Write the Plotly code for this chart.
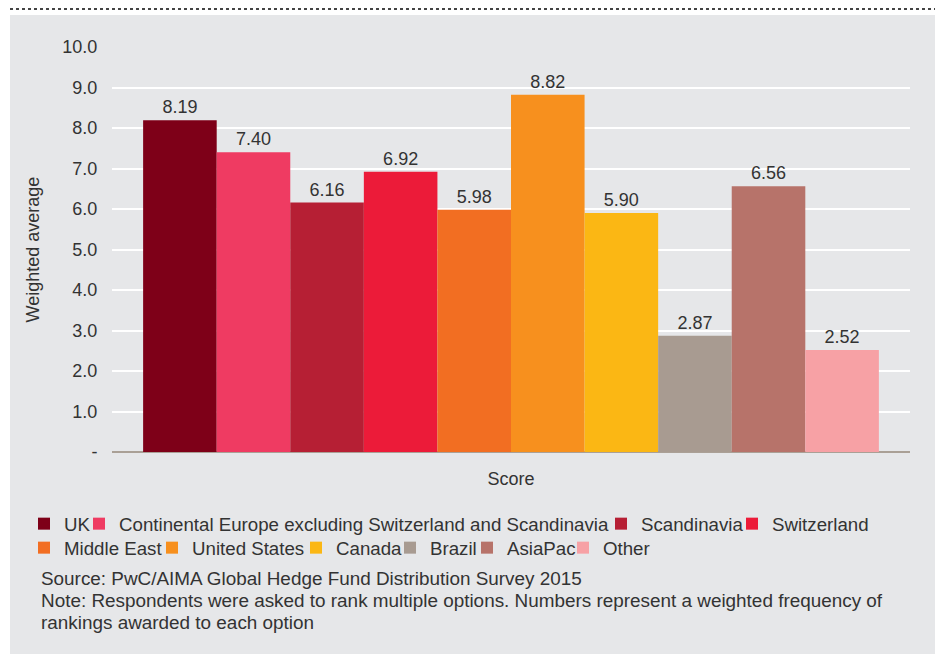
import plotly.graph_objects as go

regions = ["UK", "Continental Europe excluding Switzerland and Scandinavia", "Scandinavia",
           "Switzerland", "Middle East", "United States", "Canada", "Brazil", "AsiaPac", "Other"]
scores = [8.19, 7.40, 6.16, 6.92, 5.98, 8.82, 5.90, 2.87, 6.56, 2.52]
colors = ["#7e0018", "#ef3b62", "#b61f34", "#ec1b39", "#f26e22", "#f7901e",
          "#fbb714", "#a89b91", "#b7736a", "#f7a1a5"]
y_ticks = [0, 1, 2, 3, 4, 5, 6, 7, 8, 9, 10]
y_ticktext = ["-", "1.0", "2.0", "3.0", "4.0", "5.0", "6.0", "7.0", "8.0", "9.0", "10.0"]

# legend entry placement (page pixels: text start x, row top y)
legend_x = [60, 115, 637, 768, 60, 188, 332, 426, 503, 599]
legend_y = [505, 505, 505, 505, 529, 529, 529, 529, 529, 529]

FONT = "Liberation Sans, Arial, sans-serif"
TXT = "#333333"
BG = "#e6e7e9"
OFF = 8  # page body margin
W, H = 943 - OFF, 654 - OFF

fig = go.Figure()
legends = {}
for i, (name, val, col) in enumerate(zip(regions, scores, colors)):
    key = "legend" if i == 0 else f"legend{i + 1}"
    fig.add_trace(go.Bar(
        x=["Score"], y=[val], name=name, marker_color=col, marker_line_width=0,
        text=[f"{val:.2f}"], textposition="outside", cliponaxis=False,
        textfont=dict(size=18, color=TXT, family=FONT),
        legend=key,
    ))
    legends[key] = dict(orientation="h", xref="container", yref="container",
                        x=(legend_x[i] - 36 - OFF) / W, y=1 - (legend_y[i] - OFF) / H,
                        xanchor="left", yanchor="top",
                        font=dict(size=18.7, color=TXT, family=FONT),
                        bgcolor="rgba(0,0,0,0)", itemwidth=30)

# plot area in page pixels: x 112..910, y 47..452
def px(x):
    return (x - 112) / 798

def py(y):
    return (452 - y) / 405

fig.add_shape(type="rect", xref="paper", yref="paper", x0=px(10), x1=px(938),
              y0=py(670), y1=py(15), fillcolor=BG, line_width=0, layer="below")
fig.add_shape(type="line", xref="paper", yref="paper", x0=px(10), x1=px(950),
              y0=py(9), y1=py(9), line=dict(color="#444444", width=2, dash="dot"))

notes = ["Source: PwC/AIMA Global Hedge Fund Distribution Survey 2015",
         "Note: Respondents were asked to rank multiple options. Numbers represent a weighted frequency of",
         "rankings awarded to each option"]
for i, t in enumerate(notes):
    fig.add_annotation(text=t, xref="paper", yref="paper", x=px(39), y=py(578 + 22 * i),
                       xanchor="left", yanchor="middle", showarrow=False,
                       font=dict(size=18.9, color=TXT, family=FONT))

fig.update_layout(
    width=W, height=H,
    margin=dict(l=112 - OFF, r=W - (910 - OFF), t=47 - OFF, b=H - (452 - OFF), autoexpand=False),
    paper_bgcolor="white", plot_bgcolor="rgba(0,0,0,0)",
    font=dict(family=FONT, color=TXT, size=18),
    barmode="group", bargap=0.078, bargroupgap=0,
    showlegend=True,
    xaxis=dict(showgrid=False, ticks="outside", ticklen=10, tickcolor="rgba(0,0,0,0)",
               tickfont=dict(size=18, color=TXT), showline=False, zeroline=False),
    yaxis=dict(range=[0, 10], tickvals=y_ticks, ticktext=y_ticktext,
               showgrid=True, gridcolor="white", gridwidth=2,
               zeroline=True, zerolinecolor="#aaa096", zerolinewidth=2,
               ticks="outside", ticklen=10, tickcolor="rgba(0,0,0,0)",
               tickfont=dict(size=18, color=TXT),
               title=dict(text="Weighted average", font=dict(size=18, color=TXT), standoff=18)),
)
fig.update_layout(**legends)

fig.write_html("out.html")
